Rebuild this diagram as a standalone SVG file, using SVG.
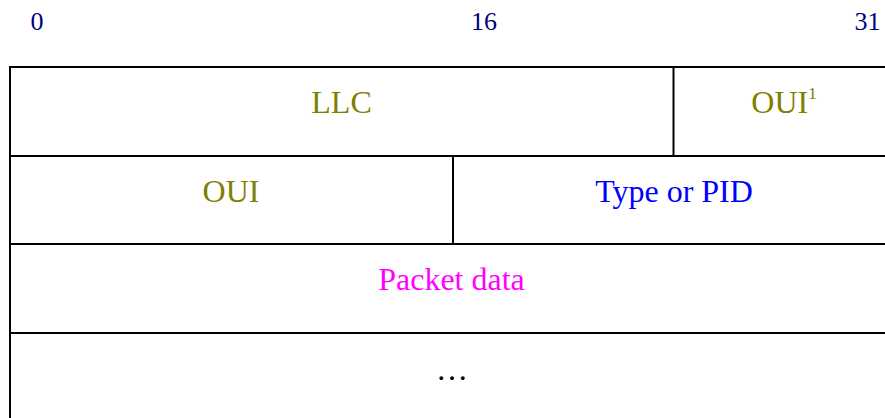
<svg xmlns="http://www.w3.org/2000/svg" width="885" height="418" viewBox="0 0 885 418">
  <style>
    text { font-family: "Liberation Serif", "Times New Roman", serif; font-size: 32px; text-anchor: middle; }
    .bit { font-size: 26px; fill: #000080; text-anchor: start; }
    .llc { fill: #808000; }
    .type { fill: #0000FF; }
    .data { fill: #FF00FF; }
    .more { fill: #000000; }
    .sup { font-size: 17px; }
    .grid { stroke: #000000; stroke-width: 2; fill: none; }
  </style>
  <rect width="885" height="418" fill="#FFFFFF"/>

  <!-- bit offsets -->
  <g id="bit-scale">
    <text class="bit" x="30.5" y="29.5">0</text>
    <text class="bit" x="471" y="29.5">16</text>
    <text class="bit" x="854.5" y="29.5">31</text>
  </g>

  <!-- frame rulings -->
  <g id="rulings" class="grid">
    <line x1="10" y1="67" x2="893" y2="67"/>
    <line x1="10" y1="156" x2="893" y2="156"/>
    <line x1="10" y1="244" x2="893" y2="244"/>
    <line x1="10" y1="333" x2="893" y2="333"/>
    <line x1="10" y1="66" x2="10" y2="420"/>
    <line x1="673.5" y1="67" x2="673.5" y2="156"/>
    <line x1="453" y1="156" x2="453" y2="244"/>
  </g>

  <g id="field-llc">
    <text class="llc" x="341.5" y="113">LLC</text>
  </g>
  <g id="field-oui-high">
    <text class="llc" x="784" y="112.5">OUI<tspan class="sup" dy="-14">1</tspan></text>
  </g>
  <g id="field-oui">
    <text class="llc" x="231" y="202">OUI</text>
  </g>
  <g id="field-type">
    <text class="type" x="674" y="202">Type or PID</text>
  </g>
  <g id="field-data">
    <text class="data" x="451.5" y="289.5">Packet data</text>
  </g>
  <g id="field-more">
    <text class="more" x="452" y="379.5">…</text>
  </g>
</svg>
